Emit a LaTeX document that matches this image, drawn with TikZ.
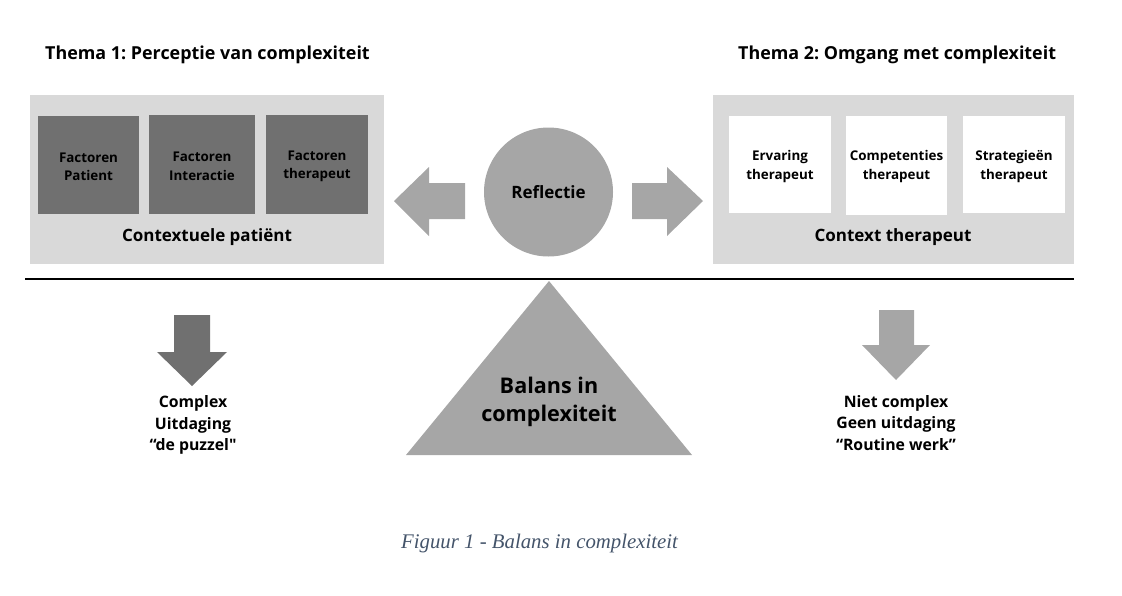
\documentclass[tikz,border=0pt]{standalone}
\usepackage{fontspec}
\setmainfont{Open Sans}[Ligatures=TeXOff]
\newfontfamily\capfont{Liberation Serif}
\frenchspacing
\definecolor{lightbox}{HTML}{D9D9D9}
\definecolor{darkbox}{HTML}{707070}
\definecolor{midgrey}{HTML}{A6A6A6}
\definecolor{captext}{HTML}{44546A}
\tikzset{
  titletext/.style={font=\fontsize{17.9}{20}\selectfont\bfseries, inner sep=0pt},
  panel/.style={fill=lightbox, draw=none},
  darkfactor/.style={fill=darkbox, draw=none},
  whitefactor/.style={fill=white, draw=none},
  factortext/.style={align=center, inner sep=0pt, font=\fontsize{13.4}{18.5}\selectfont\bfseries},
  paneltext/.style={font=\fontsize{17}{20}\selectfont\bfseries, inner sep=0pt},
  outtext/.style={font=\fontsize{15.8}{21.5}\selectfont\bfseries, align=center, inner sep=0pt},
}
\begin{document}
\begin{tikzpicture}[x=1pt,y=-1pt]
\useasboundingbox (0,0) rectangle (1122,595);
% titles
\node[titletext, anchor=west] (t1) at (45,55) {Thema 1: Perceptie van complexiteit};
\node[titletext, anchor=west] (t2) at (738,55) {Thema 2: Omgang met complexiteit};
% left panel
\fill[panel] (30,95) rectangle (384,264);
\node[darkfactor, minimum width=101pt, minimum height=98pt] (f1) at (88.5,165) {};
\node[darkfactor, minimum width=106pt, minimum height=99pt] (f2) at (202,164.5) {};
\node[darkfactor, minimum width=102pt, minimum height=99pt] (f3) at (317,164.5) {};
\node[factortext] (f1t) at ([yshift=-2pt]f1.center) {Factoren\\Patient};
\node[factortext] (f2t) at ([yshift=-2pt]f2.center) {Factoren\\Interactie};
\node[factortext] (f3t) at ([yshift=-2pt]f3.center) {Factoren\\therapeut};
\node[paneltext] (cp) at (207,237) {Contextuele patiënt};
% right panel
\fill[panel] (713,95) rectangle (1074,264);
\node[whitefactor, minimum width=102pt, minimum height=97pt] (e1) at (780,164.5) {};
\node[whitefactor, minimum width=101pt, minimum height=99pt] (e2) at (896.5,165.5) {};
\node[whitefactor, minimum width=102pt, minimum height=97pt] (e3) at (1014,164.5) {};
\node[factortext] (e1t) at ([yshift=-2pt]e1.center) {Ervaring\\therapeut};
\node[factortext] (e2t) at ([yshift=-1pt]e2.center) {Competenties\\therapeut};
\node[factortext] (e3t) at ([yshift=-2pt]e3.center) {Strategieën\\therapeut};
\node[paneltext] (ct) at (893,237) {Context therapeut};
% reflectie circle
\node[circle, fill=midgrey, minimum size=129pt, inner sep=0pt, font=\fontsize{17}{20}\selectfont\bfseries] (refl) at (548.5,192) {Reflectie};
% side arrows
\fill[midgrey] (394,201) -- (429,167) -- (429,183) -- (465,183) -- (465,219) -- (429,219) -- (429,236) -- cycle;
\fill[midgrey] (703,201) -- (667,167) -- (667,183) -- (632,183) -- (632,219) -- (667,219) -- (667,236) -- cycle;
% beam
\draw[line width=2.6pt] (25,279) -- (1074,279);
% triangle
\fill[midgrey] (549,281) -- (692,455) -- (406,455) -- cycle;
\node[font=\fontsize{21.6}{28}\selectfont\bfseries, align=center, inner sep=0pt] (bal) at (549,402) {Balans in\\complexiteit};
% down arrows
\fill[darkbox] (174,315) -- (210,315) -- (210,352) -- (227,352) -- (192,386) -- (157,352) -- (174,352) -- cycle;
\fill[midgrey] (879,310) -- (914,310) -- (914,345) -- (930,345) -- (896,380) -- (862,345) -- (879,345) -- cycle;
\node[outtext] (lo) at (193,425) {Complex\\Uitdaging\\“de puzzel"};
\node[outtext] (ro) at (896,423) {Niet complex\\Geen uitdaging\\“Routine werk”};
% caption
\node[font=\capfont\itshape\fontsize{20.8}{22}\selectfont, text=captext, inner sep=0pt, anchor=west] (cap) at (401,543) {Figuur 1 - Balans in complexiteit};
\end{tikzpicture}
\end{document}
